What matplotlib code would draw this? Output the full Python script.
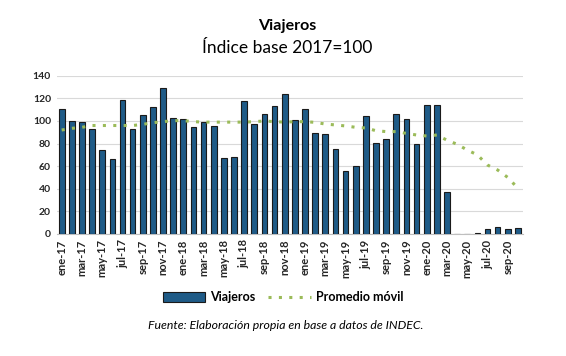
import matplotlib
matplotlib.use("Agg")
import matplotlib.pyplot as plt
from matplotlib.lines import Line2D
from matplotlib.patches import Patch

plt.rcParams['font.family'] = ['Lato', 'DejaVu Sans']

meses = ["ene", "feb", "mar", "abr", "may", "jun", "jul", "ago", "sep", "oct", "nov", "dic"]
months = [f"{m}-{y}" for y in ["17", "18", "19", "20"] for m in meses][:46]

viajeros = [111, 100, 99, 93, 74, 66, 119, 93, 105, 112, 129, 103,
            101.5, 94.7, 99, 96, 67, 68, 118, 97, 106, 113, 124, 101,
            111, 89, 88.5, 75, 56, 60, 104, 80.5, 84, 106, 101.5, 79.6,
            114, 114, 37.5, 0, 0, 0.8, 4, 6, 4, 5]

promedio_movil = [92, 93.5, 94.4, 96, 96, 96, 96, 96, 97, 98.5, 99.4, 100.3,
                  100.3, 99.4, 99, 99, 99, 99, 99, 99.4, 100, 99.4, 99, 99.4,
                  99.4, 98.8, 97.3, 96.5, 95.6, 94.4, 93.8, 91.4, 90.6, 90.6, 89, 87.6,
                  86.7, 87.6, 83, 79.4, 74.3, 70, 61, 56.6, 50, 40.4]

yticks = [0, 20, 40, 60, 80, 100, 120, 140]

fig = plt.figure(figsize=(5.66, 3.56), dpi=100)
ax = fig.add_axes([0.100, 0.343, 0.824, 0.444])

x = list(range(len(months)))
ax.bar(x, viajeros, width=0.56, color="#1F5B87", edgecolor="#1a1a1a", linewidth=0.8, zorder=3)
ax.plot(x, promedio_movil, color="#9BBB59", linestyle=(0, (1, 2.4)), linewidth=2.2, zorder=4)

ax.set_xlim(-0.5, len(months) - 0.5)
ax.set_ylim(0, 140)
ax.set_yticks(yticks)
ax.set_yticklabels([str(v) for v in yticks], fontsize=7.5, fontweight="bold", color="#262626")
ax.set_xticks(x[::2])
ax.set_xticklabels(months[::2], rotation=90, fontsize=8, fontweight="bold", color="#262626")
ax.tick_params(axis="both", length=0, pad=4)
ax.grid(axis="y", color="#D9D9D9", linewidth=0.8, zorder=0)
for s in ["top", "right", "left"]:
    ax.spines[s].set_visible(False)
ax.spines["bottom"].set_color("#BFBFBF")
ax.spines["bottom"].set_linewidth(0.8)

fig.text(0.507, 0.928, "Viajeros", ha="center", va="center", fontsize=11.5, fontweight="bold", color="#000000")
fig.text(0.507, 0.866, "Índice base 2017=100", ha="center", va="center", fontsize=12.5, color="#000000")

handles = [Patch(facecolor="#1F5B87", edgecolor="#1a1a1a", linewidth=0.8),
           Line2D([0], [0], color="#9BBB59", linestyle=(0, (1, 2.4)), linewidth=2.2)]
fig.legend(handles, ["Viajeros", "Promedio móvil"], loc="center", bbox_to_anchor=(0.50, 0.165),
           ncol=2, frameon=False, prop={"size": 9, "weight": "bold"}, handlelength=3.4,
           handleheight=0.8, columnspacing=1.0, handletextpad=0.4)

fig.text(0.505, 0.087, "Fuente: Elaboración propia en base a datos de INDEC.", ha="center", va="center",
         fontsize=8.8, style="italic", color="#000000")

fig.savefig("out.png", dpi=100)
